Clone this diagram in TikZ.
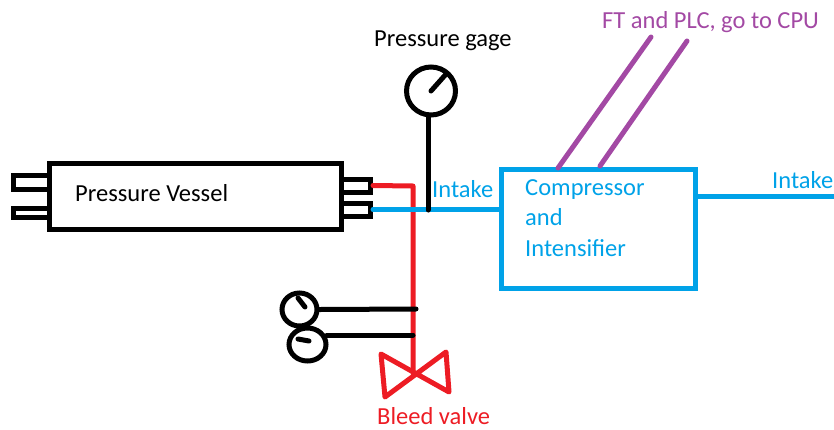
\documentclass[tikz,border=0pt]{standalone}
\usepackage{fontspec}
\setmainfont{Carlito}
\usetikzlibrary{shapes.geometric}
\definecolor{pipeblue}{HTML}{00A2E8}
\definecolor{bleedred}{HTML}{ED1C24}
\definecolor{signalpurple}{HTML}{A349A4}
\tikzset{%
    sketch/.style={line width=5pt,line cap=round,line join=round},
    stub/.style={draw,line width=5pt,inner sep=0pt,rectangle},
    gage/.style={ellipse,draw,line width=5pt,inner sep=0pt},
    label/.style={anchor=base west,inner sep=0pt,font=\fontsize{24.5}{28}\selectfont}
}

\begin{document}
\begin{tikzpicture}[x=1pt,y=-1pt]
    \useasboundingbox (0,0) rectangle (834,429);

    % Pressure vessel with its four stubs
    \node[stub,minimum width=36pt,minimum height=14pt] (lefttop) at (31,182.5) {};
    \node[stub,minimum width=36pt,minimum height=9pt] (leftbot) at (31,212.5) {};
    \node[stub,minimum width=29pt,minimum height=13pt] (righttop) at (356,185.5) {};
    \node[stub,minimum width=29pt,minimum height=13pt] (rightbot) at (356,209.5) {};
    \node[stub,fill=white,minimum width=291.5pt,minimum height=66pt] (vessel) at (195.25,196.5) {};
    \node[label] (vessellbl) at (75,201) {Pressure Vessel};

    % Compressor box, its text is set line by line
    \node[stub,draw=pipeblue,minimum width=194pt,minimum height=119pt] (comp) at (598.5,229) {};
    \foreach \txt/\ypos [count=\n] in {Compressor/195,and/225.5,Intensifier/256}%
    {%
        \node[label,text=pipeblue] (complbl\n) at (525,\ypos) {\txt};
    }

    % Named points on the pipes
    \coordinate (bleedstart) at (righttop.east);
    \coordinate (bleedcorner) at (413,186);
    \coordinate (valvemid) at (413,373);
    \coordinate (intakestart) at (rightbot.east);
    \coordinate (intakeend) at (comp.west |- intakestart);
    \coordinate (gagefoot) at (428,210);
    \coordinate (outletstart) at (comp.east |- 0,196);
    \coordinate (outletend) at (834,196);

    % Bleed line and valve
    \draw[sketch,bleedred] (bleedstart) -- (bleedcorner) -- (valvemid);
    \coordinate (valvea) at (381,354);
    \coordinate (valveb) at (449,392);
    \coordinate (valvec) at (446,352);
    \coordinate (valved) at (385,397);
    \draw[sketch,bleedred] (valvea) -- (valveb) -- (valvec) -- (valved) -- cycle;
    \node[label,text=bleedred] (bleedlbl) at (377,424) {Bleed valve};

    % Intake on the blue side
    \draw[sketch,pipeblue] (intakestart) -- (intakeend);
    \draw[sketch,pipeblue,line cap=butt] (outletstart) -- (outletend);
    \node[label,text=pipeblue] (intakeleft) at (432,197) {Intake};
    \node[label,text=pipeblue] (intakeright) at (772,188) {Intake};

    % Main gage on top of the intake
    \node[gage,minimum width=49pt,minimum height=48pt] (maingage) at (431,91) {};
    \coordinate (maintip) at (447,73);
    \coordinate (gagetop) at (428,115);
    \draw[sketch] (gagetop) -- (gagefoot);
    \draw[sketch] (maingage.center) -- (maintip);
    \node[label] (gagelbl) at (374,46) {Pressure gage};

    % Two small gages on the bleed line
    \node[gage,minimum width=35pt,minimum height=33pt] (gageup) at (299.5,309.5) {};
    \node[gage,minimum width=37pt,minimum height=33pt] (gagelow) at (307.5,344.5) {};
    \coordinate (tapup) at (416,309);
    \coordinate (taplow) at (413,335);
    \coordinate (tapfrom) at (327,335);
    \coordinate (tipup) at (298,298);
    \coordinate (hubup) at (305,307);
    \coordinate (tiplow) at (298,339);
    \coordinate (hublow) at (309,341);
    \draw[sketch] (gageup.east) -- (tapup);
    \draw[sketch] (tapfrom) -- (taplow);
    \draw[sketch] (tipup) -- (hubup);
    \draw[sketch] (tiplow) -- (hublow);

    % Signal lines going off to the CPU
    \coordinate (ftfoot) at (558,168);
    \coordinate (fttop) at (651,37);
    \coordinate (plcfoot) at (600,166);
    \coordinate (plctop) at (687,41);
    \draw[sketch,signalpurple] (ftfoot) -- (fttop);
    \draw[sketch,signalpurple] (plcfoot) -- (plctop);
    \node[label,text=signalpurple] (cpulbl) at (602,28) {FT and PLC, go to CPU};
\end{tikzpicture}
\end{document}
